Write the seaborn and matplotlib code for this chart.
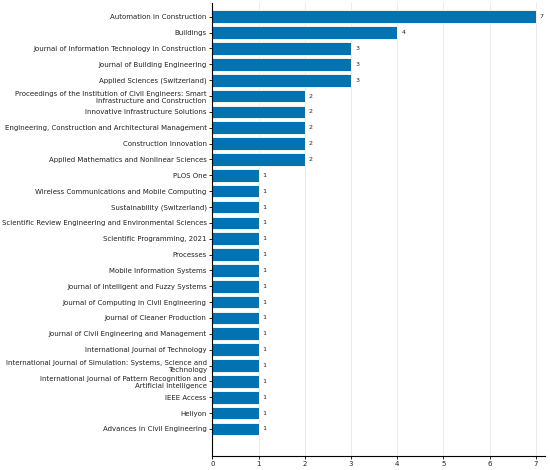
import matplotlib
matplotlib.use("Agg")
import matplotlib.pyplot as plt
import seaborn as sns
import pandas as pd

journals = [
    "Automation in Construction",
    "Buildings",
    "Journal of Information Technology in Construction",
    "Journal of Building Engineering",
    "Applied Sciences (Switzerland)",
    "Proceedings of the Institution of Civil Engineers: Smart\nInfrastructure and Construction",
    "Innovative Infrastructure Solutions",
    "Engineering, Construction and Architectural Management",
    "Construction Innovation",
    "Applied Mathematics and Nonlinear Sciences",
    "PLOS One",
    "Wireless Communications and Mobile Computing",
    "Sustainability (Switzerland)",
    "Scientific Review Engineering and Environmental Sciences",
    "Scientific Programming, 2021",
    "Processes",
    "Mobile Information Systems",
    "Journal of Intelligent and Fuzzy Systems",
    "Journal of Computing in Civil Engineering",
    "Journal of Cleaner Production",
    "Journal of Civil Engineering and Management",
    "International Journal of Technology",
    "International Journal of Simulation: Systems, Science and\nTechnology",
    "International Journal of Pattern Recognition and\nArtificial Intelligence",
    "IEEE Access",
    "Heliyon",
    "Advances in Civil Engineering",
]
counts = [7, 4, 3, 3, 3, 2, 2, 2, 2, 2, 1, 1, 1, 1, 1, 1, 1, 1, 1, 1, 1, 1, 1, 1, 1, 1, 1]

df = pd.DataFrame({"journal": journals, "count": counts})

fig = plt.figure(figsize=(5.5, 4.7), dpi=100)
ax = fig.add_axes([0.386, 0.030, 0.605, 0.964])
sns.barplot(data=df, x="count", y="journal", orient="h", color="#0173b2",
            saturation=1, width=0.8, edgecolor="white", linewidth=0.6, ax=ax)
ax.bar_label(ax.containers[0], padding=3, fontsize=4.6, color="#222222")
ax.set_xlim(0, 7.2)
ax.set_ylim(27.7, -0.88)
ax.set_xlabel("")
ax.set_ylabel("")
ax.set_axisbelow(True)
ax.xaxis.grid(True, color="#e8e8e8", linewidth=0.6)
ax.tick_params(axis="both", labelsize=5.05, length=2.5, width=0.6, pad=1.5,
               labelcolor="#222222")
for s in ["top", "right"]:
    ax.spines[s].set_visible(False)
for s in ["left", "bottom"]:
    ax.spines[s].set_linewidth(0.8)
fig.savefig("out.png", dpi=100)
